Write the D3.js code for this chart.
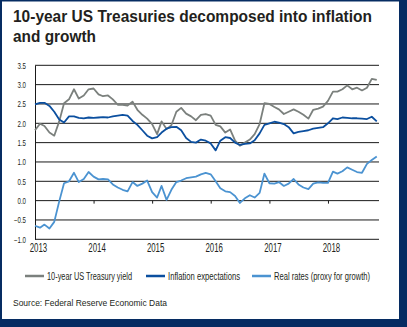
<!DOCTYPE html>
<html>
<head>
<meta charset="utf-8">
<script src="https://cdn.jsdelivr.net/npm/d3@7"></script>
<style>
  body { margin: 0; background: #fff; }
  svg { display: block; }
  text { font-family: "Liberation Sans", Arial, sans-serif; fill: #231f20; }
</style>
</head>
<body>
<div id="chart"></div>
<script>
var svgWidth = 407;
var svgHeight = 327;

var margin = { top: 65.3, right: 28, bottom: 87.7, left: 35 };

var width = svgWidth - margin.left - margin.right;
var height = svgHeight - margin.top - margin.bottom;

// monthly observations, Jan 2013 .. Nov 2018
var months = d3.timeMonth.range(new Date(2013, 0, 1), new Date(2018, 11, 1));

var treasuryYield = [
  1.82, 1.99, 1.93, 1.76, 1.68, 2.05, 2.52, 2.62, 2.88, 2.64, 2.72, 2.88,
  2.90, 2.75, 2.70, 2.72, 2.62, 2.48, 2.48, 2.46, 2.56, 2.35, 2.22, 2.12,
  1.98, 1.72, 2.05, 1.85, 1.95, 2.30, 2.40, 2.25, 2.18, 2.08, 2.22, 2.24,
  2.20, 1.96, 1.92, 1.76, 1.84, 1.55, 1.42, 1.50, 1.58, 1.72, 1.98, 2.52,
  2.50, 2.42, 2.36, 2.24, 2.30, 2.36, 2.30, 2.22, 2.12, 2.35, 2.38, 2.43,
  2.58, 2.82, 2.82, 2.88, 2.98, 2.88, 2.92, 2.85, 2.92, 3.15, 3.12
];

var inflationExp = [
  2.49, 2.53, 2.53, 2.45, 2.30, 2.10, 2.02, 2.18, 2.18, 2.14, 2.13, 2.15,
  2.14, 2.15, 2.16, 2.15, 2.18, 2.20, 2.22, 2.20, 2.06, 1.96, 1.82, 1.68,
  1.61, 1.64, 1.76, 1.86, 1.90, 1.91, 1.82, 1.62, 1.52, 1.50, 1.58, 1.55,
  1.48, 1.30, 1.55, 1.64, 1.62, 1.50, 1.44, 1.47, 1.48, 1.56, 1.74, 1.96,
  2.00, 2.04, 2.02, 1.98, 1.90, 1.74, 1.78, 1.80, 1.82, 1.86, 1.88, 1.90,
  2.00, 2.13, 2.11, 2.15, 2.14, 2.13, 2.13, 2.12, 2.11, 2.17, 2.05
];

var realRates = [
  -0.65, -0.70, -0.62, -0.72, -0.55, -0.02, 0.45, 0.50, 0.72, 0.48, 0.56, 0.74,
  0.62, 0.55, 0.56, 0.55, 0.42, 0.34, 0.28, 0.24, 0.48, 0.38, 0.44, 0.52,
  0.22, 0.08, 0.38, 0.02, 0.28, 0.48, 0.52, 0.58, 0.60, 0.62, 0.68, 0.72,
  0.68, 0.50, 0.32, 0.24, 0.22, 0.12, -0.06, 0.06, 0.14, 0.08, 0.20, 0.70,
  0.45, 0.44, 0.48, 0.38, 0.44, 0.56, 0.42, 0.34, 0.30, 0.44, 0.47, 0.46,
  0.46, 0.75, 0.70, 0.76, 0.86, 0.80, 0.74, 0.72, 0.95, 1.05, 1.14
];

var yTicks = [-1.0, -0.5, 0.0, 0.5, 1.0, 1.5, 2.0, 2.5, 3.0, 3.5];

var seriesNames = ["10-year US Treasury yield", "Inflation expectations", "Real rates (proxy for growth)"];
var seriesColors = ["#7b807d", "#0b4f9f", "#4b93d1"];

// squeeze text horizontally to mimic the condensed font of the original
function condense(selection, k) {
  selection.each(function () {
    var len = this.getComputedTextLength();
    d3.select(this)
      .attr("textLength", len * k)
      .attr("lengthAdjust", "spacingAndGlyphs");
  });
}

var svg = d3.select("#chart")
  .append("svg")
  .attr("width", svgWidth)
  .attr("height", svgHeight);

// navy frame + white card
svg.append("rect").attr("width", svgWidth).attr("height", svgHeight).attr("fill", "#062c62");
svg.append("rect").attr("x", 2).attr("y", 1.5).attr("width", 397).attr("height", 317.5).attr("fill", "#fff");

// title
svg.append("text")
  .attr("x", 13)
  .attr("y", 21.5)
  .attr("font-size", 16)
  .attr("font-weight", "bold")
  .attr("textLength", 359)
  .attr("lengthAdjust", "spacingAndGlyphs")
  .text("10-year US Treasuries decomposed into inflation");
svg.append("text")
  .attr("x", 13)
  .attr("y", 41.5)
  .attr("font-size", 16)
  .attr("font-weight", "bold")
  .attr("textLength", 83)
  .attr("lengthAdjust", "spacingAndGlyphs")
  .text("and growth");

var chartGroup = svg.append("g")
  .attr("transform", `translate(${margin.left}, ${margin.top})`);

var xTimeScale = d3.scaleTime()
  .domain([new Date(2013, 0, 1), new Date(2018, 10, 15)])
  .range([0, width]);

var yLinearScale = d3.scaleLinear()
  .domain([-1, 3.5])
  .range([height, 0]);

// horizontal gridlines
chartGroup.append("g")
  .selectAll("line")
  .data(yTicks)
  .enter()
  .append("line")
  .attr("x1", 0)
  .attr("x2", width)
  .attr("y1", d => yLinearScale(d))
  .attr("y2", d => yLinearScale(d))
  .attr("stroke", "#1a1a1a")
  .attr("stroke-width", 1);

// y axis
var leftAxis = d3.axisLeft(yLinearScale)
  .tickValues(yTicks)
  .tickFormat(d3.format(".1f"))
  .tickSize(0)
  .tickPadding(9);

var yAxis = chartGroup.append("g").call(leftAxis);
yAxis.select(".domain").attr("stroke", "#1a1a1a");
yAxis.selectAll("text")
  .attr("font-size", 8.5)
  .attr("font-family", "'Liberation Sans', sans-serif")
  .attr("fill", "#333")
  .call(condense, 0.72);

// tick marks on the zero line
var zeroAxis = d3.axisBottom(xTimeScale)
  .ticks(d3.timeYear.every(1))
  .tickSize(3)
  .tickFormat("");
var zAxis = chartGroup.append("g")
  .attr("transform", `translate(0, ${yLinearScale(0)})`)
  .call(zeroAxis);
zAxis.select(".domain").remove();
zAxis.selectAll("line").attr("stroke", "#1a1a1a");

// bottom axis with year labels
var bottomAxis = d3.axisBottom(xTimeScale)
  .ticks(d3.timeYear.every(1))
  .tickFormat(d3.timeFormat("%Y"))
  .tickSize(0)
  .tickPadding(4.5);
var xAxis = chartGroup.append("g")
  .attr("transform", `translate(0, ${height})`)
  .call(bottomAxis);
xAxis.select(".domain").remove();
xAxis.selectAll("text")
  .attr("x", 3)
  .attr("font-size", 12)
  .attr("font-family", "'Liberation Sans', sans-serif")
  .attr("fill", "#333")
  .attr("textLength", 17.5)
  .attr("lengthAdjust", "spacingAndGlyphs");

// lines
var allSeries = [treasuryYield, inflationExp, realRates];
var line = d3.line()
  .x((d, i) => xTimeScale(months[i]))
  .y(d => yLinearScale(d));

chartGroup.selectAll(".series")
  .data(allSeries)
  .enter()
  .append("path")
  .attr("class", "series")
  .attr("d", d => line(d))
  .attr("fill", "none")
  .attr("stroke", (d, i) => seriesColors[i])
  .attr("stroke-width", 1.8)
  .attr("stroke-linejoin", "round");

// legend
var legendX = [25, 146, 252];
var legendTextLen = [85, 72, 96];
var legend = svg.append("g").attr("transform", "translate(0, 276)");
legend.selectAll("line")
  .data(seriesNames)
  .enter()
  .append("line")
  .attr("x1", (d, i) => legendX[i])
  .attr("x2", (d, i) => legendX[i] + 19)
  .attr("y1", 0)
  .attr("y2", 0)
  .attr("stroke", (d, i) => seriesColors[i])
  .attr("stroke-width", 2.5);
legend.selectAll("text")
  .data(seriesNames)
  .enter()
  .append("text")
  .attr("x", (d, i) => legendX[i] + 22)
  .attr("y", 3.5)
  .attr("font-size", 10)
  .attr("textLength", (d, i) => legendTextLen[i])
  .attr("lengthAdjust", "spacingAndGlyphs")
  .text(d => d);

// source
svg.append("text")
  .attr("x", 13)
  .attr("y", 306)
  .attr("font-size", 9)
  .attr("textLength", 154)
  .attr("lengthAdjust", "spacingAndGlyphs")
  .text("Source: Federal Reserve Economic Data");
</script>
</body>
</html>
